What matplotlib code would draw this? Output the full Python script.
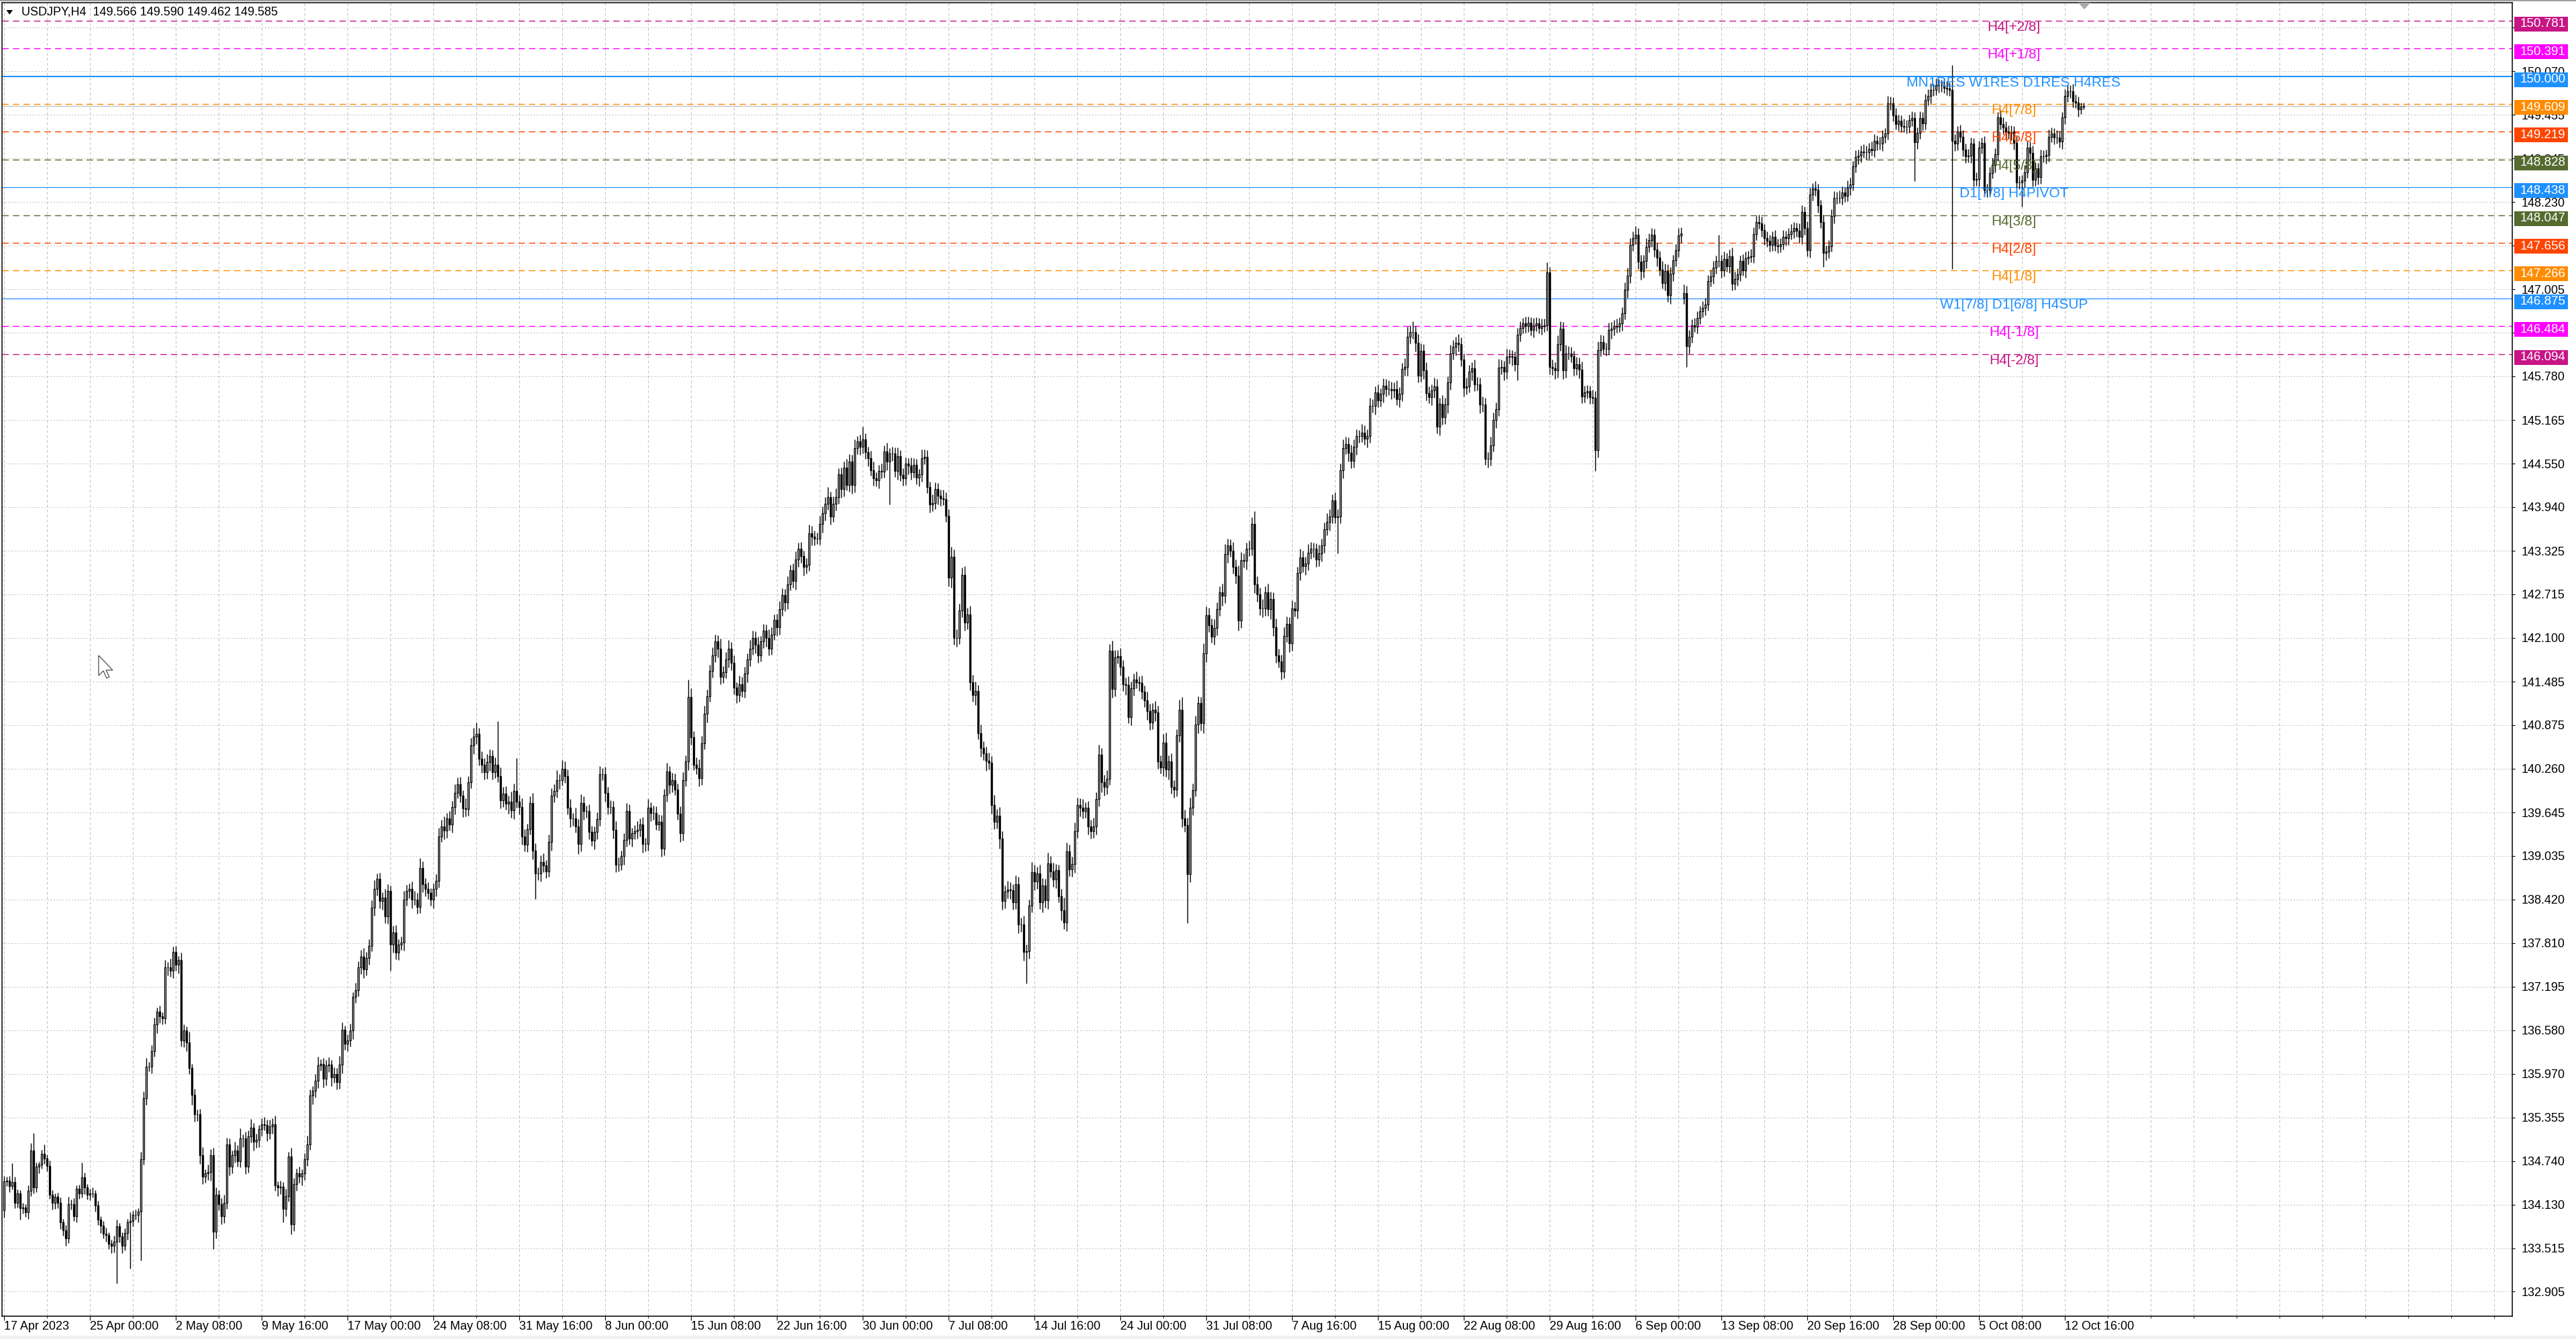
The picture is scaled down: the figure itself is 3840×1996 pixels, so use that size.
import matplotlib
matplotlib.use("Agg")
import matplotlib.pyplot as plt
from matplotlib.patches import Rectangle, Polygon
import numpy as np

plt.rcParams['font.family'] = ['Liberation Sans', 'DejaVu Sans']

# ---------------- data ----------------
symbol = "USDJPY,H4"
title_ohlc = [149.566, 149.590, 149.462, 149.585]

x_labels = ['17 Apr 2023', '25 Apr 00:00', '2 May 08:00', '9 May 16:00', '17 May 00:00',
            '24 May 08:00', '31 May 16:00', '8 Jun 00:00', '15 Jun 08:00', '22 Jun 16:00',
            '30 Jun 00:00', '7 Jul 08:00', '14 Jul 16:00', '24 Jul 00:00', '31 Jul 08:00',
            '7 Aug 16:00', '15 Aug 00:00', '22 Aug 08:00', '29 Aug 16:00', '6 Sep 00:00',
            '13 Sep 08:00', '20 Sep 16:00', '28 Sep 00:00', '5 Oct 08:00', '12 Oct 16:00']
bars_per_label = 32
bars_per_grid = 16

price_ticks = [132.905, 133.515, 134.130, 134.740, 135.355, 135.970, 136.580, 137.195,
               137.810, 138.420, 139.035, 139.645, 140.260, 140.875, 141.485, 142.100,
               142.715, 143.325, 143.940, 144.550, 145.165, 145.780, 146.395, 147.005,
               147.620, 148.230, 148.845, 149.455, 150.070, 150.685]

level_values = [150.781, 150.391, 150.000, 149.609, 149.219, 148.828, 148.438,
                148.047, 147.656, 147.266, 146.875, 146.484, 146.094]
level_names = ['H4[+2/8]', 'H4[+1/8]', 'MN1RES W1RES D1RES H4RES', 'H4[7/8]', 'H4[6/8]',
               'H4[5/8]', 'D1[7/8] H4PIVOT', 'H4[3/8]', 'H4[2/8]', 'H4[1/8]',
               'W1[7/8] D1[6/8] H4SUP', 'H4[-1/8]', 'H4[-2/8]']
level_colors = ['#C71585', '#FF00FF', '#1E90FF', '#FF8C00', '#FF4500', '#556B2F', '#1E90FF',
                '#556B2F', '#FF4500', '#FF8C00', '#1E90FF', '#FF00FF', '#C71585']
level_solid = [False, False, True, False, False, False, True,
               False, False, False, True, False, False]
level_width_px = [1.4, 1.4, 2, 1.4, 1.4, 1.4, 1.2, 1.4, 1.4, 1.4, 1.2, 1.4, 1.4]
label_bar = 749

bid_price = 149.585
first_open = 134.05
gap_opens = {626: 146.88}

closes = [
    134.455, 134.47, 134.39, 134.45, 134.15, 134.29, 134.08, 134.09, 134.02, 134.32,
    134.89, 134.37, 134.66, 134.69, 134.84, 134.78, 134.67, 134.27, 134.15, 134.24,
    134.15, 133.88, 133.77, 133.65, 134.14, 134.14, 133.97, 134.35, 134.29, 134.51,
    134.37, 134.27, 134.29, 134.29, 134.12, 133.92, 133.83, 133.72, 133.70, 133.58,
    133.55, 133.61, 133.82, 133.68, 133.55, 133.73, 133.88, 133.90, 133.98, 133.98,
    134.03, 134.77, 135.63, 136.07, 136.07, 136.29, 136.66, 136.84, 136.78, 136.75,
    137.47, 137.47, 137.42, 137.68, 137.50, 137.57, 136.44, 136.58, 136.41, 136.05,
    135.67, 135.40, 135.40, 134.82, 134.52, 134.57, 134.59, 134.82, 133.75, 134.27,
    134.14, 133.97, 134.15, 134.98, 134.66, 134.82, 134.89, 134.74, 135.06, 135.06,
    134.66, 135.09, 135.21, 135.01, 135.04, 135.19, 135.26, 135.25, 135.14, 135.23,
    135.26, 134.40, 134.37, 134.38, 134.07, 134.25, 134.81, 133.85, 134.42, 134.57,
    134.52, 134.57, 134.77, 134.98, 135.66, 135.73, 135.87, 136.09, 136.11, 135.90,
    136.09, 136.10, 135.92, 135.97, 135.85, 136.10, 136.59, 136.39, 136.44, 136.58,
    137.05, 137.15, 137.47, 137.62,
    137.44, 137.60, 137.77, 138.31, 138.57, 138.71, 138.40, 138.45, 138.18, 138.54,
    137.79, 137.96, 137.67, 137.79, 137.82, 138.42, 138.54, 138.57, 138.42, 138.42,
    138.32, 138.86, 138.64, 138.57, 138.51, 138.42, 138.57, 138.68, 139.31, 139.45,
    139.39, 139.56, 139.48, 139.72, 139.92, 140.04, 139.88, 139.70, 139.69, 140.07,
    140.59, 140.71, 140.75, 140.40, 140.32, 140.21, 140.35, 140.44, 140.21, 140.32,
    140.16, 139.82, 139.91, 139.77, 139.80, 139.67, 139.95, 139.80, 139.72, 139.31,
    139.19, 139.41, 139.78, 139.11, 138.79, 138.79, 138.95, 138.90, 138.82, 139.23,
    139.88, 139.95, 140.10, 140.10, 140.26, 140.16, 139.71, 139.56, 139.56, 139.45,
    139.20, 139.78, 139.66, 139.66, 139.37, 139.25, 139.37, 139.55, 140.18, 140.18,
    139.92, 139.72, 139.72, 139.40, 138.91, 138.91, 139.03, 139.26, 139.66, 139.28,
    139.35, 139.38, 139.40, 139.48, 139.20, 139.20, 139.71, 139.64, 139.64, 139.48,
    139.51, 139.14, 139.89, 140.22, 140.03, 140.10, 139.97, 139.63, 139.35, 140.10,
    140.36, 141.27, 140.70, 140.32, 140.27, 140.13, 140.62, 141.03, 141.28, 141.64,
    141.85, 142.05, 141.95, 141.55, 141.62, 141.80, 141.95, 141.75, 141.40, 141.30,
    141.45, 141.35, 141.60, 141.80, 141.95, 142.10, 142.00, 141.85, 142.05, 142.20,
    142.10, 141.95, 142.15, 142.35, 142.25, 142.50, 142.70, 142.60, 142.85, 143.05,
    142.90, 143.20, 143.35, 143.25, 143.10,
    143.13, 143.57, 143.52, 143.50, 143.50, 143.70, 143.85, 143.99, 144.08, 143.81,
    143.99, 144.08, 144.40, 144.19, 144.50, 144.25, 144.58, 144.25, 144.77, 144.86,
    144.79, 144.89, 144.71, 144.63, 144.46, 144.34, 144.32, 144.45, 144.44, 144.72,
    144.58, 144.69, 144.69, 144.45, 144.66, 144.39, 144.34, 144.55, 144.52, 144.43,
    144.53, 144.35, 144.40, 144.63, 144.65, 144.22, 143.98, 144.00, 144.19, 144.10,
    144.06, 144.05, 143.82, 142.95, 143.24, 142.10, 142.10, 142.49, 142.99, 142.32,
    142.43, 141.48, 141.30, 141.35, 140.76, 140.55, 140.48, 140.37, 140.34, 139.75,
    139.51, 139.60, 139.28, 138.40, 138.53, 138.56, 138.55, 138.38, 138.64, 138.07,
    138.07, 137.68, 137.69, 138.33, 138.81, 138.67, 138.79, 138.38, 138.62, 138.41,
    138.93, 138.82, 138.70, 138.83, 138.47, 138.27, 138.10, 139.10, 138.84, 138.92,
    139.38, 139.75, 139.71, 139.66, 139.71, 139.45, 139.38, 139.45, 139.83, 140.46,
    140.07, 140.00, 140.12, 141.92, 141.38, 141.83, 141.84, 141.69, 141.45, 141.44,
    140.99, 141.39, 141.51, 141.48, 141.47, 141.34, 141.22, 141.07, 140.91, 141.09,
    141.05, 140.36, 140.28, 140.63, 140.25, 140.36, 140.00, 139.97, 140.73, 141.09,
    139.56, 139.47, 138.78, 139.71, 139.96, 140.88, 141.18, 140.90, 141.88, 142.42,
    142.28, 142.12, 142.24, 142.50, 142.74, 142.69, 143.28, 143.40, 143.33, 143.10,
    142.98, 142.34, 143.19, 143.18, 143.35, 143.35, 143.70, 142.85, 142.71, 142.51,
    142.51, 142.74, 142.50, 142.65, 142.25, 141.85, 141.77, 141.63, 142.13, 142.30,
    142.02, 142.51, 142.49, 143.01, 143.23, 143.11, 143.15, 143.30, 143.35, 143.35,
    143.20, 143.29, 143.40, 143.63, 143.73, 143.81, 144.03, 143.80, 143.81, 144.46,
    144.77, 144.83, 144.70, 144.59, 144.79, 144.94, 144.94, 144.99, 144.90, 144.94,
    145.36, 145.36, 145.55, 145.44, 145.53, 145.65, 145.60, 145.60, 145.58, 145.60,
    145.46, 145.53, 145.88, 145.91, 146.34, 146.40, 146.40, 146.25, 145.79, 146.14,
    145.86, 145.54, 145.49, 145.58, 145.64, 145.07, 145.39, 145.20, 145.38, 145.69,
    146.10, 146.19, 146.25, 146.23, 146.01, 145.62, 145.64, 145.84, 145.89, 145.67,
    145.67, 145.38, 145.38, 144.62, 144.62, 144.81, 145.17, 145.32, 145.90, 145.91,
    145.84, 146.05, 146.06,
    146.05, 145.95, 146.36, 146.46, 146.52, 146.49, 146.53, 146.43, 146.50, 146.52,
    146.46, 146.49, 146.50, 147.24, 145.91, 145.89, 145.86, 146.23, 146.45, 145.86,
    146.10, 146.10, 146.06, 145.89, 145.95, 145.87, 145.50, 145.55, 145.57, 145.49,
    145.48, 144.74, 146.15, 146.26, 146.17, 146.17, 146.43, 146.45, 146.49, 146.48,
    146.52, 146.67, 147.00, 147.19, 147.63, 147.72, 147.77, 147.39, 147.26, 147.40,
    147.60, 147.69, 147.77, 147.56, 147.45, 147.28, 147.09, 147.26, 146.92, 147.22,
    147.41, 147.55, 147.76, 147.79, 146.95, 146.20, 146.34, 146.50, 146.48, 146.60,
    146.69, 146.74, 146.79, 147.12, 147.18, 147.31, 147.40, 147.40, 147.27, 147.43,
    147.33, 147.47, 147.08, 147.15, 147.21, 147.40, 147.27, 147.44, 147.46, 147.47,
    147.78, 147.95, 147.93, 147.84, 147.72, 147.68, 147.63, 147.74, 147.62, 147.61,
    147.64, 147.74, 147.72, 147.78, 147.82, 147.86, 147.83, 147.74, 148.09, 147.86,
    147.55, 148.34, 148.42, 148.40, 148.18, 147.95, 147.51, 147.53, 147.61, 148.03,
    148.29, 148.29, 148.29, 148.36, 148.32,
    148.43, 148.48, 148.73, 148.86, 148.88, 148.94, 148.93, 148.93, 148.98, 148.96,
    149.09, 149.05, 149.05, 149.15, 149.19, 149.62, 149.62, 149.45, 149.33, 149.37,
    149.30, 149.29, 149.29, 149.38, 149.41, 149.07, 149.20, 149.41, 149.34, 149.67,
    149.72, 149.81, 149.81, 149.87, 149.87, 149.87, 149.84, 149.83, 149.81, 149.09,
    149.05, 149.22, 149.15, 148.97, 148.87, 148.88, 149.05, 148.54, 148.55, 149.00,
    149.06, 148.40, 148.40, 148.64, 148.75, 148.90, 149.42, 149.33, 149.28, 149.21,
    149.20, 149.22, 149.06, 148.51, 148.51, 148.53, 148.65, 149.00, 148.92, 148.54,
    148.70, 148.58, 148.87, 148.87, 148.89, 149.15, 149.19, 149.14, 149.14, 149.08,
    149.42, 149.72, 149.79, 149.79, 149.65, 149.63, 149.53, 149.57, 149.585,
]

# upper / lower shadow lengths in hundredths of a yen
wick_up = [
    8, 5, 6, 26, 7, 5, 4, 6, 5, 8, 10, 25, 6, 4, 6, 14, 5, 8, 6, 5,
    6, 8, 5, 7, 10, 6, 8, 5, 6, 21, 7, 5, 6, 8, 4, 6, 5, 7, 9, 4,
    6, 8, 10, 5, 6, 7, 5, 12, 6, 8, 5, 10, 9, 12, 7, 8, 10, 6, 9, 5,
    10, 7, 12, 8, 9, 6, 10, 8, 6, 15, 6, 9, 7, 8, 12, 6, 10, 9, 11, 10,
    6, 8, 12, 9, 8, 7, 12, 8, 14, 6, 9, 8, 12, 7, 9, 6, 8, 10, 7, 9,
    8, 12, 6, 9, 7, 10, 6, 12, 8, 7, 9, 6, 8, 12, 9, 7, 10, 12, 6, 8,
    7, 10, 6, 9, 8, 12, 10, 6, 8, 9, 7, 10, 8, 9, 12, 8, 9, 10, 12, 8,
    9, 7, 12, 10, 8, 9, 10, 7, 8, 12, 9, 8, 10, 12, 9, 14, 10, 8, 9, 7,
    8, 10, 12, 9, 14, 8, 10, 9, 12, 10, 11, 8, 14, 9, 10, 12, 16, 8, 10, 9,
    12, 9, 8, 10, 61, 12, 9, 10, 8, 14, 10, 46, 9, 12, 10, 8, 9, 14, 10, 8,
    9, 12, 8, 10, 11, 9, 14, 8, 12, 10, 9, 12, 8, 15, 10, 12, 9, 8, 10, 9,
    8, 10, 12, 9, 11, 8, 10, 9, 12, 10, 8, 9, 12, 10, 8, 9, 12, 8, 10, 9,
    12, 8, 10, 9, 11, 10, 9, 12, 8, 10, 9, 8, 10, 11, 9, 24, 12, 9, 10, 12,
    10, 12, 9, 8, 12, 10, 9, 14, 8, 10, 12, 9, 10, 8, 12, 10, 9, 8, 12, 10,
    9, 12, 8, 10, 9, 12, 10, 8, 9, 12, 10, 9, 12, 8, 10, 12, 9, 10, 8, 9,
    12, 10, 9, 8, 12, 10, 9, 14, 8, 10, 12, 9, 10, 8, 12, 10, 9, 12, 8, 10,
    18, 9, 8, 10, 12, 9, 8, 10, 9, 12, 8, 10, 9, 12, 8, 10, 9, 8, 12, 10,
    9, 8, 12, 10, 9, 8, 12, 10, 9, 8, 12, 10, 9, 14, 10, 12, 9, 10, 12, 9,
    12, 10, 14, 9, 12, 10, 9, 12, 10, 14, 9, 12, 10, 9, 12, 10, 9, 12, 10, 9,
    12, 10, 9, 14, 10, 9, 12, 10, 9, 15, 10, 12, 9, 8, 10, 18, 12, 9, 10, 12,
    10, 9, 12, 8, 10, 9, 12, 10, 14, 9, 10, 12, 9, 14, 10, 9, 12, 10, 9, 12,
    10, 9, 12, 8, 10, 9, 12, 10, 9, 12, 10, 9, 12, 14, 9, 12, 10, 9, 14, 18,
    12, 10, 14, 9, 12, 10, 9, 14, 12, 10, 9, 12, 10, 9, 12, 14, 10, 9, 12, 10,
    14, 12, 10, 9, 12, 10, 18, 12, 10, 14, 9, 12, 10, 9, 12, 10, 9, 12, 10, 9,
    12, 10, 9, 12, 10, 9, 12, 10, 9, 8, 12, 10, 9, 12, 10, 9, 12, 10, 9, 12,
    10, 9, 12, 10, 9, 8, 12, 10, 9, 12, 10, 9, 12, 8, 10, 9, 12, 10, 9, 12,
    10, 9, 12, 14, 10, 15, 9, 12, 10, 9, 12, 10, 9, 12, 10, 9, 12, 10, 9, 12,
    10, 9, 12, 10, 9, 12, 10, 9, 12, 10, 9, 12, 10, 9, 12, 10, 9, 12, 10, 9,
    12, 10, 9, 8, 10, 9, 8, 10, 9, 8, 10, 9, 8, 10, 9, 14, 8, 10, 9, 12,
    10, 9, 12, 10, 9, 8, 10, 9, 12, 10, 9, 8, 10, 9, 12, 10, 9, 8, 10, 9,
    8, 10, 9, 8, 10, 12, 9, 10, 12, 9, 10, 9, 12, 10, 9, 8, 10, 9, 12, 10,
    9, 10, 8, 9, 10, 8, 12, 10, 9, 8, 10, 9, 8, 10, 9, 8, 10, 9, 8, 37,
    9, 10, 8, 9, 12, 10, 9, 8, 10, 9, 8, 10, 9, 8, 10, 9, 8, 10, 9, 8,
    10, 9, 8, 10, 9, 8, 10, 9, 8, 10, 9, 8, 10, 9, 8, 10, 9, 8, 10, 9,
    8, 10, 9, 8, 10, 9, 8, 10, 9, 8, 10, 9, 8, 10, 9, 8, 10, 9, 8, 10,
    9, 8, 10, 9, 8, 10, 9, 8, 10, 9, 8, 10, 9, 8, 10, 9, 8, 10, 9, 8,
    10, 9, 8, 10, 9, 8, 35, 9, 8, 10, 9, 8, 10, 9, 8, 10, 9, 8, 10, 9,
    8, 10, 9, 8, 10, 9, 8, 10, 9, 8, 10, 9, 8, 10, 9, 8, 10, 9, 8, 10,
    9, 8, 10, 9, 8, 10, 9, 8, 10, 9, 8, 10, 9, 8, 6, 4,
]
wick_dn = [
    10, 6, 8, 5, 7, 6, 16, 8, 6, 9, 7, 8, 6, 9, 5, 8, 7, 6, 9, 8,
    7, 9, 8, 10, 6, 8, 7, 9, 8, 6, 9, 7, 8, 6, 9, 8, 10, 7, 9, 8,
    10, 9, 59, 8, 10, 7, 9, 65, 8, 6, 10, 69, 8, 10, 7, 9, 8, 12, 10, 9,
    8, 12, 9, 10, 8, 12, 9, 10, 12, 8, 14, 10, 9, 12, 10, 8, 9, 12, 25, 10,
    9, 12, 10, 8, 12, 9, 10, 8, 9, 12, 10, 8, 9, 12, 8, 10, 9, 8, 12, 9,
    10, 8, 12, 9, 19, 10, 8, 14, 9, 10, 8, 12, 9, 10, 8, 12, 9, 10, 8, 12,
    9, 10, 12, 8, 10, 9, 12, 8, 10, 9, 12, 8, 9, 10, 12, 9, 10, 8, 12, 9,
    10, 12, 9, 10, 37, 12, 9, 10, 8, 12, 9, 10, 12, 8, 10, 9, 12, 10, 8, 9,
    12, 10, 9, 8, 12, 10, 9, 12, 10, 8, 9, 12, 10, 9, 8, 12, 10, 9, 12, 10,
    9, 12, 10, 8, 9, 12, 10, 9, 14, 10, 12, 9, 10, 12, 9, 10, 8, 12, 36, 10,
    12, 9, 10, 8, 12, 9, 10, 12, 8, 10, 9, 12, 10, 9, 14, 10, 12, 9, 10, 8,
    12, 10, 9, 8, 12, 10, 9, 12, 10, 9, 8, 12, 10, 9, 12, 8, 10, 9, 12, 10,
    9, 12, 10, 8, 9, 12, 10, 9, 12, 10, 8, 9, 12, 10, 9, 12, 10, 8, 9, 12,
    10, 9, 12, 8, 10, 9, 12, 10, 8, 9, 12, 10, 9, 12, 10, 8, 9, 12, 10, 9,
    12, 10, 8, 9, 12, 10, 9, 8, 12, 10, 9, 12, 10, 8, 9, 12, 10, 9, 12, 10,
    9, 12, 10, 8, 9, 12, 10, 9, 12, 8, 10, 9, 12, 10, 8, 9, 12, 10, 9, 12,
    10, 9, 12, 8, 10, 9, 12, 10, 9, 12, 60, 10, 9, 12, 8, 10, 9, 12, 10, 8,
    9, 12, 10, 9, 8, 12, 10, 9, 12, 10, 8, 9, 12, 14, 10, 12, 9, 10, 12, 10,
    12, 10, 14, 9, 12, 10, 14, 9, 12, 10, 9, 14, 12, 10, 9, 12, 10, 9, 12, 10,
    12, 44, 10, 9, 12, 10, 9, 14, 10, 12, 9, 10, 12, 9, 14, 10, 12, 9, 10, 12,
    9, 12, 10, 9, 12, 10, 9, 12, 10, 14, 12, 10, 9, 12, 10, 9, 12, 10, 14, 9,
    12, 10, 9, 12, 10, 9, 12, 10, 9, 12, 10, 9, 12, 10, 14, 9, 12, 10, 9, 12,
    10, 69, 12, 10, 9, 12, 10, 14, 12, 10, 9, 12, 10, 9, 14, 10, 12, 9, 10, 12,
    14, 10, 9, 12, 10, 9, 12, 10, 9, 12, 10, 9, 14, 12, 10, 9, 12, 10, 9, 12,
    10, 9, 12, 10, 9, 12, 10, 9, 12, 10, 9, 12, 10, 9, 12, 10, 9, 51, 10, 12,
    9, 12, 10, 9, 12, 10, 9, 8, 12, 10, 9, 12, 10, 9, 12, 10, 9, 12, 10, 9,
    12, 10, 9, 12, 10, 9, 12, 10, 9, 12, 10, 9, 12, 10, 9, 12, 10, 9, 12, 10,
    9, 12, 10, 9, 12, 10, 9, 12, 10, 9, 12, 10, 9, 12, 10, 9, 12, 10, 9, 12,
    10, 9, 12, 10, 23, 9, 8, 10, 9, 8, 10, 9, 8, 10, 9, 8, 10, 9, 12, 10,
    9, 12, 10, 9, 8, 10, 9, 12, 10, 9, 8, 10, 9, 29, 10, 9, 8, 10, 9, 12,
    10, 9, 8, 10, 9, 12, 10, 9, 8, 10, 12, 9, 10, 8, 9, 10, 12, 9, 8, 10,
    9, 12, 10, 8, 9, 10, 8, 29, 10, 9, 8, 10, 9, 8, 10, 9, 8, 10, 9, 8,
    10, 9, 8, 10, 9, 8, 10, 9, 8, 10, 9, 8, 10, 9, 8, 10, 9, 8, 10, 9,
    8, 10, 9, 8, 10, 9, 8, 10, 9, 8, 10, 9, 8, 10, 9, 8, 10, 9, 19, 10,
    9, 8, 10, 9, 8, 10, 9, 8, 10, 9, 8, 10, 9, 8, 10, 9, 8, 10, 9, 8,
    10, 9, 8, 10, 9, 8, 10, 9, 8, 10, 9, 8, 55, 9, 8, 10, 9, 8, 10, 9,
    8, 10, 9, 8, 10, 9, 180, 10, 9, 8, 10, 9, 8, 10, 9, 8, 10, 9, 8, 10,
    9, 8, 10, 9, 8, 10, 9, 8, 10, 9, 8, 10, 34, 9, 8, 10, 9, 8, 10, 9,
    8, 10, 9, 8, 10, 9, 8, 10, 9, 8, 10, 9, 8, 10, 6, 4,
]

# ---------------- derived candle arrays ----------------
n = len(closes)
if len(wick_up) != n or len(wick_dn) != n:
    raise SystemExit(f"length mismatch {n} {len(wick_up)} {len(wick_dn)}")
opens = [first_open] + closes[:-1]
for b, v in gap_opens.items():
    opens[b] = v
o = np.array(opens)
c = np.array(closes)
hi = np.maximum(o, c) + np.array(wick_up) / 100.0
lo = np.minimum(o, c) - np.array(wick_dn) / 100.0
xs = np.arange(n)

# ---------------- figure ----------------
W, H = 3840, 1996
fig = plt.figure(figsize=(W / 100, H / 100), dpi=100)
fig.patch.set_facecolor('white')
ax = fig.add_axes([3 / W, 34 / H, 3742 / W, 1958 / H])
y0, y1 = 132.560, 151.034
ax.set_xlim(-0.8, 934.8)
ax.set_ylim(y0, y1)
ppx = (y1 - y0) / 1958.0  # price per pixel

for s in ax.spines.values():
    s.set_color('black')
    s.set_linewidth(1.1)

# grid
ax.set_axisbelow(True)
ax.set_xticks([bars_per_label * k for k in range(len(x_labels))])
ax.set_xticklabels(x_labels, ha='left')
ax.set_xticks(np.arange(0, 935, bars_per_grid), minor=True)
ax.grid(True, axis='x', which='both', color='#C0C0C0', lw=0.72, linestyle=(0, (4, 3.4)))
ax.yaxis.tick_right()
ax.set_yticks(price_ticks)
ax.set_yticklabels([f'{p:.3f}' for p in price_ticks])
ax.grid(True, axis='y', which='major', color='#C0C0C0', lw=0.72, linestyle=(0, (2, 2.5)))
ax.tick_params(axis='x', which='major', length=4, width=0.8, pad=1.2, labelsize=13, direction='out')
ax.tick_params(axis='x', which='minor', length=2, width=0.6, direction='out')
ax.tick_params(axis='y', which='major', length=3, width=0.8, pad=6.5, labelsize=13, direction='out',
               right=True, left=False, labelright=True, labelleft=False)

# levels
for v, nm, col, solid, wpx in zip(level_values, level_names, level_colors, level_solid, level_width_px):
    ls = '-' if solid else (0, (9.6 / wpx, 6.1 / wpx))
    ax.axhline(v, color=col, lw=0.72 * wpx, linestyle=ls, zorder=2)
    ax.text(label_bar, v, nm, ha='center', va='top', color=col, fontsize=15, zorder=5)

ax.axhline(bid_price, color='#C0C0C0', lw=0.9, zorder=2.2)

# candles
ax.vlines(xs, lo, hi, color='black', lw=1.0, zorder=3)
up = c >= o
bottoms = np.minimum(o, c)
heights = np.abs(c - o)
ax.bar(xs[up], heights[up], bottom=bottoms[up], width=0.5, facecolor='white',
       edgecolor='black', lw=0.95, zorder=3.2)
ax.bar(xs[~up], heights[~up], bottom=bottoms[~up], width=0.5, facecolor='black',
       edgecolor='black', lw=0.95, zorder=3.2)

# right-side level price boxes
tr = ax.get_yaxis_transform()
for v, col in zip(level_values, level_colors):
    ax.add_patch(Rectangle((1.00088, v - 16 * ppx), 0.0213, 22 * ppx, transform=tr,
                           facecolor=col, edgecolor='none', clip_on=False, zorder=6))
    ax.text(1.00321, v - 5 * ppx, f'{v:.3f}', transform=tr, color='white', fontsize=13.5,
            ha='left', va='center', zorder=7, clip_on=False)

# chart shift marker
sx = n - 1 + 0.3
ax.add_patch(Polygon([[sx - 2.25, y1], [sx + 2.25, y1], [sx, y1 - 10 * ppx]], closed=True,
                     facecolor='#A9A9A9', edgecolor='none', clip_on=False, zorder=6))

# title
fig.text(32 / W, 1 - 18 / H, f"{symbol}  " + " ".join(f"{p:.3f}" for p in title_ohlc),
         fontsize=13, ha='left', va='center', color='black')
tri = [[9.5, 15], [19, 15], [14.25, 21.7]]
fig.patches.append(Polygon([[px / W, 1 - py / H] for px, py in tri], closed=True,
                           transform=fig.transFigure, facecolor='black', edgecolor='none'))

# mouse cursor
cur = [[0, 0], [0, 30], [7, 23], [12, 34], [16, 32], [11, 22], [21, 22]]
cx, cy = 147, 977
fig.patches.append(Polygon([[(cx + px) / W, 1 - (cy + py) / H] for px, py in cur], closed=True,
                           transform=fig.transFigure, facecolor='white', edgecolor='#505050', lw=0.9,
                           zorder=10))

# window chrome strips
fig.patches.append(Rectangle((0, 0), 1, 5 / H, transform=fig.transFigure,
                             facecolor='#F0F0F0', edgecolor='none'))
fig.patches.append(Rectangle((0, 1 - 2 / H), 1, 2 / H, transform=fig.transFigure,
                             facecolor='#A0A0A0', edgecolor='none'))

fig.savefig('out.png', dpi=100)
